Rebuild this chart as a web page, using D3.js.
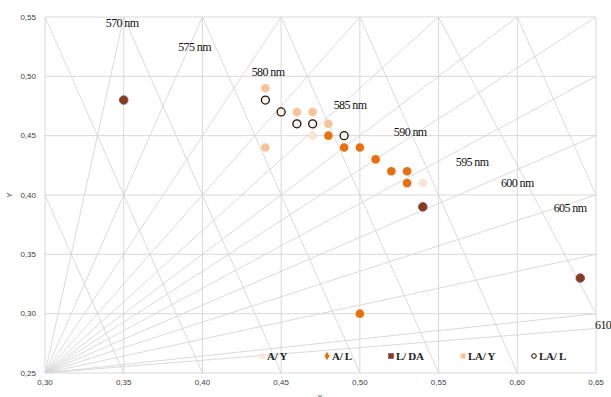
<!DOCTYPE html>
<html>
<head>
<meta charset="utf-8">
<script src="https://cdn.jsdelivr.net/npm/d3@7"></script>
<style>
  html, body { margin: 0; padding: 0; background: #fff; }
  svg { display: block; }
</style>
</head>
<body>
<svg id="chart" width="611" height="397"></svg>
<script>
// Axis ticks
const xTicks = [0.30, 0.35, 0.40, 0.45, 0.50, 0.55, 0.60, 0.65];
const yTicks = [0.25, 0.30, 0.35, 0.40, 0.45, 0.50, 0.55];

// Rays from the lower-left corner towards the top and right edges
const rayOrigin = [0.30, 0.25];
const rayEnds = [
  [0.35, 0.55], [0.40, 0.55], [0.45, 0.55], [0.50, 0.55], [0.55, 0.55],
  [0.60, 0.55], [0.65, 0.55], [0.65, 0.50], [0.65, 0.45], [0.65, 0.40],
  [0.65, 0.35], [0.65, 0.30], [0.65, 0.2875]
];

// Descending cross lines (start, end)
const crossStarts = [[0.30, 0.40], [0.30, 0.55], [0.35, 0.55], [0.40, 0.55], [0.45, 0.55], [0.50, 0.55], [0.55, 0.55], [0.60, 0.55]];
const crossEnds   = [[0.35, 0.25], [0.40, 0.25], [0.45, 0.25], [0.50, 0.25], [0.55, 0.25], [0.60, 0.25], [0.65, 0.30], [0.65, 0.40]];

// Wavelength labels
const waveNames = ["570 nm", "575 nm", "580 nm", "585 nm", "590 nm", "595 nm", "600 nm", "605 nm", "610 nm"];
const waveX = [0.349, 0.395, 0.4417, 0.4938, 0.532, 0.5713, 0.600, 0.6335, 0.6494];
const waveY = [0.545, 0.525, 0.5037, 0.4758, 0.453, 0.4278, 0.410, 0.389, 0.291];

// Series
const seriesNames = ["A/ Y", "A/ L", "L/ DA", "LA/ Y", "LA/ L"];
const ayX = [0.47, 0.54];
const ayY = [0.45, 0.41];
const alX = [0.48, 0.49, 0.50, 0.51, 0.52, 0.53, 0.53, 0.50];
const alY = [0.45, 0.44, 0.44, 0.43, 0.42, 0.42, 0.41, 0.30];
const ldaX = [0.35, 0.54, 0.64];
const ldaY = [0.48, 0.39, 0.33];
const layX = [0.44, 0.44, 0.46, 0.47, 0.48];
const layY = [0.49, 0.44, 0.47, 0.47, 0.46];
const lalX = [0.44, 0.45, 0.46, 0.47, 0.49];
const lalY = [0.48, 0.47, 0.46, 0.46, 0.45];

const seriesStyle = [
  { fill: "#fbe4d5", stroke: "#fbe4d5", sw: 0 },
  { fill: "#e8700e", stroke: "#e8700e", sw: 0 },
  { fill: "#8a3d0f", stroke: "#7a3aa0", sw: 0.8 },
  { fill: "#f8c39b", stroke: "#f8c39b", sw: 0 },
  { fill: "#fdf1e8", stroke: "#111", sw: 1.3 }
];
const seriesData = [
  ayX.map((v, i) => [v, ayY[i]]),
  alX.map((v, i) => [v, alY[i]]),
  ldaX.map((v, i) => [v, ldaY[i]]),
  layX.map((v, i) => [v, layY[i]]),
  lalX.map((v, i) => [v, lalY[i]])
];

const svg = d3.select("#chart");
const plotL = 45, plotR = 596, plotT = 17, plotB = 373;
const x = d3.scaleLinear().domain([0.30, 0.65]).range([plotL, plotR]);
const y = d3.scaleLinear().domain([0.25, 0.55]).range([plotB, plotT]);
const fmt = d => d.toFixed(2).replace(".", ",");
const gridColor = "#d9d9d9";

svg.append("clipPath").attr("id", "plotClip")
  .append("rect").attr("x", plotL).attr("y", plotT)
  .attr("width", plotR - plotL).attr("height", plotB - plotT);

// Gridlines
const grid = svg.append("g");
grid.selectAll("line.gx").data(xTicks).join("line")
  .attr("x1", d => x(d)).attr("x2", d => x(d))
  .attr("y1", plotT).attr("y2", plotB)
  .attr("stroke", gridColor).attr("stroke-width", 1);
grid.selectAll("line.gy").data(yTicks).join("line")
  .attr("y1", d => y(d)).attr("y2", d => y(d))
  .attr("x1", plotL).attr("x2", plotR)
  .attr("stroke", gridColor).attr("stroke-width", 1);

// Construction lines
const lines = svg.append("g").attr("clip-path", "url(#plotClip)");
lines.selectAll("line.ray").data(rayEnds).join("line")
  .attr("x1", x(rayOrigin[0])).attr("y1", y(rayOrigin[1]))
  .attr("x2", d => x(d[0])).attr("y2", d => y(d[1]))
  .attr("stroke", "#d6d6d6").attr("stroke-width", 0.9);
lines.selectAll("line.cross").data(crossStarts).join("line")
  .attr("x1", d => x(d[0])).attr("y1", d => y(d[1]))
  .attr("x2", (d, i) => x(crossEnds[i][0])).attr("y2", (d, i) => y(crossEnds[i][1]))
  .attr("stroke", "#d6d6d6").attr("stroke-width", 0.9);

// Axis labels
const axisFont = "'Liberation Sans', Arial, sans-serif";
svg.append("g").selectAll("text").data(yTicks).join("text")
  .attr("x", 36).attr("y", d => y(d)).attr("dy", "0.35em")
  .attr("text-anchor", "end")
  .attr("font-family", axisFont).attr("font-size", 8)
  .attr("fill", "#404040").text(fmt);
svg.append("g").selectAll("text").data(xTicks).join("text")
  .attr("x", d => x(d)).attr("y", 385)
  .attr("text-anchor", "middle")
  .attr("font-family", axisFont).attr("font-size", 8)
  .attr("fill", "#404040").text(fmt);
svg.append("text")
  .attr("transform", "translate(12,195) rotate(-90)")
  .attr("text-anchor", "middle")
  .attr("font-family", axisFont).attr("font-size", 8)
  .attr("fill", "#404040").text("Y");
svg.append("text")
  .attr("x", 320).attr("y", 400).attr("text-anchor", "middle")
  .attr("font-family", axisFont).attr("font-size", 9)
  .attr("fill", "#404040").text("x");

// Wavelength labels
svg.append("g").selectAll("text").data(waveNames).join("text")
  .attr("x", (d, i) => x(waveX[i])).attr("y", (d, i) => y(waveY[i]))
  .attr("dy", "0.35em")
  .attr("text-anchor", (d, i) => i === waveNames.length - 1 ? "start" : "middle")
  .attr("font-family", "'Liberation Serif', 'Times New Roman', serif")
  .attr("font-size", 12).attr("letter-spacing", -0.6)
  .attr("fill", "#111").text(d => d);

// Points
seriesData.forEach((pts, s) => {
  const st = seriesStyle[s];
  svg.append("g").selectAll("circle").data(pts).join("circle")
    .attr("cx", d => x(d[0])).attr("cy", d => y(d[1]))
    .attr("r", s === 4 ? 4 : 4.3)
    .attr("fill", st.fill)
    .attr("stroke", st.sw ? st.stroke : "none")
    .attr("stroke-width", st.sw);
});

// Legend
const legendX = [262, 327, 391, 463, 534];
const legend = svg.append("g");
seriesNames.forEach((name, i) => {
  const st = seriesStyle[i];
  const lx = legendX[i], ly = 356;
  if (i === 1) {
    legend.append("path").attr("d", d3.symbol(d3.symbolDiamond, 22)())
      .attr("transform", `translate(${lx},${ly})`).attr("fill", st.fill);
  } else if (i === 4) {
    legend.append("circle").attr("cx", lx).attr("cy", ly).attr("r", 2.3)
      .attr("fill", st.fill).attr("stroke", st.stroke).attr("stroke-width", 1);
  } else {
    legend.append("rect").attr("x", lx - 2.5).attr("y", ly - 2.5)
      .attr("width", 5).attr("height", 5)
      .attr("fill", st.fill).attr("stroke", st.sw ? st.stroke : "none").attr("stroke-width", 0.6);
  }
  legend.append("text")
    .attr("x", lx + 5).attr("y", ly + 4)
    .attr("font-family", "'Liberation Serif', 'Times New Roman', serif")
    .attr("font-size", 11).attr("font-weight", "bold").attr("letter-spacing", -0.3)
    .attr("fill", "#222").text(name);
});
</script>
</body>
</html>
